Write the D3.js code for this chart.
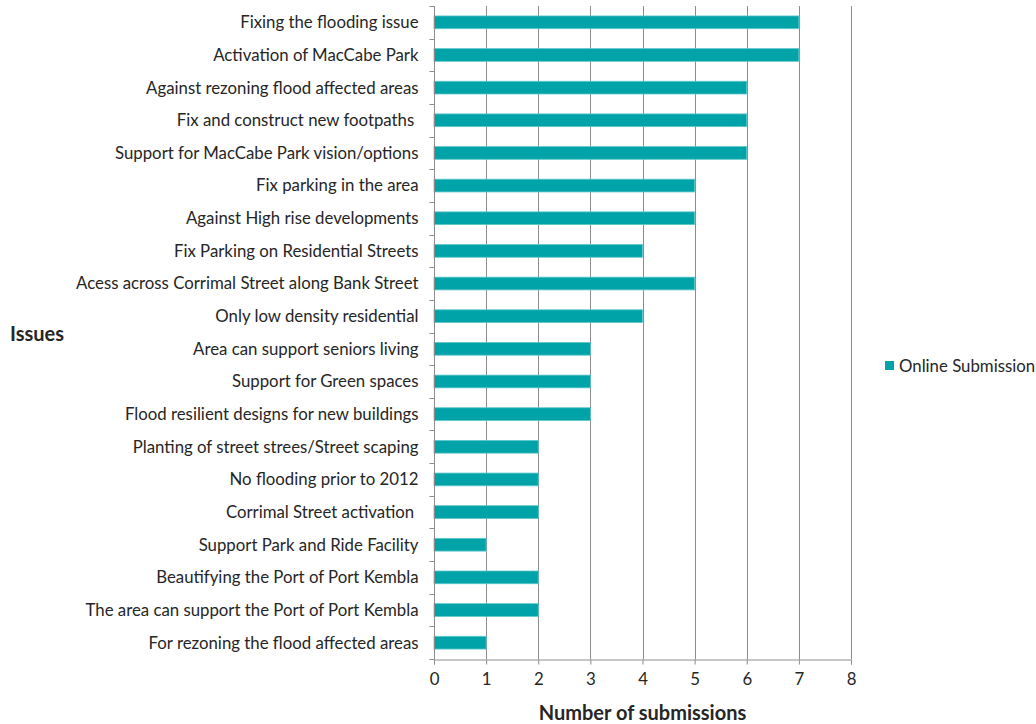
<!DOCTYPE html>
<html>
<head>
<meta charset="utf-8">
<script src="https://cdn.jsdelivr.net/npm/d3@7"></script>
<style>
  body { margin: 0; background: #fff; }
  text { font-family: Lato, "Open Sans", sans-serif; fill: #262626; }
</style>
</head>
<body>
<div id="chart-area"></div>
<script>
const issues = [
  "Fixing the flooding issue",
  "Activation of MacCabe Park",
  "Against rezoning flood affected areas",
  "Fix and construct new footpaths ",
  "Support for MacCabe Park vision/options",
  "Fix parking in the area",
  "Against High rise developments",
  "Fix Parking on Residential Streets",
  "Acess across Corrimal Street along Bank Street",
  "Only low density residential",
  "Area can support seniors living",
  "Support for Green spaces",
  "Flood resilient designs for new buildings",
  "Planting of street strees/Street scaping",
  "No flooding prior to 2012",
  "Corrimal Street activation ",
  "Support Park and Ride Facility",
  "Beautifying the Port of Port Kembla",
  "The area can support the Port of Port Kembla",
  "For rezoning the flood affected areas"
]
const submissions = [7, 7, 6, 6, 6, 5, 5, 4, 5, 4, 3, 3, 3, 2, 2, 2, 1, 2, 2, 1]
const xTicks = [0, 1, 2, 3, 4, 5, 6, 7, 8]
const seriesName = "Online Submission"

const MARGIN = { LEFT: 434, RIGHT: 185, TOP: 6, BOTTOM: 65 }
const WIDTH = 1036 - MARGIN.LEFT - MARGIN.RIGHT
const HEIGHT = 724 - MARGIN.TOP - MARGIN.BOTTOM
const BAR = "#00A3A8"
const LABEL_SIZE = "16.8px"

const svg = d3.select("#chart-area").append("svg")
  .attr("width", 1036)
  .attr("height", 724)

const g = svg.append("g")
  .attr("transform", `translate(${MARGIN.LEFT}, ${MARGIN.TOP})`)

const x = d3.scaleLinear()
  .domain([0, 8])
  .range([0, WIDTH])

const y = d3.scaleBand()
  .domain(issues)
  .range([0, HEIGHT])
  .paddingInner(0.61)
  .paddingOuter(0.305)

// gridlines
g.selectAll("line.grid")
  .data(xTicks.slice(1))
  .enter().append("line")
    .attr("class", "grid")
    .attr("x1", d => Math.round(x(d)) + 0.5)
    .attr("x2", d => Math.round(x(d)) + 0.5)
    .attr("y1", 0)
    .attr("y2", HEIGHT)
    .attr("stroke", "#8c8c8c")
    .attr("stroke-width", 1)

// bars
g.selectAll("rect.bar")
  .data(submissions)
  .enter().append("rect")
    .attr("class", "bar")
    .attr("x", x(0))
    .attr("y", (d, i) => y(issues[i]))
    .attr("width", d => x(d) - x(0))
    .attr("height", y.bandwidth())
    .attr("fill", BAR)
    .attr("stroke", "#5cc8cc")
    .attr("stroke-width", 0.8)

// x axis
const xAxisCall = d3.axisBottom(x)
  .tickValues(xTicks)
  .tickSize(5)
  .tickPadding(9)
const xAxisGroup = g.append("g")
  .attr("transform", `translate(0, ${HEIGHT + 0.5})`)
  .call(xAxisCall)
xAxisGroup.select(".domain").attr("stroke", "#8c8c8c")
xAxisGroup.selectAll(".tick line").attr("stroke", "#8c8c8c")
xAxisGroup.selectAll("text").attr("font-size", LABEL_SIZE).attr("fill", "#262626")

// y axis with ticks at category boundaries
const yAxisGroup = g.append("g").attr("transform", "translate(0.5, 0)")
yAxisGroup.append("line")
  .attr("x1", 0).attr("x2", 0)
  .attr("y1", 0).attr("y2", HEIGHT)
  .attr("stroke", "#8c8c8c")
yAxisGroup.selectAll("line.ytick")
  .data(d3.range(issues.length + 1))
  .enter().append("line")
    .attr("class", "ytick")
    .attr("x1", -5).attr("x2", 0)
    .attr("y1", i => Math.round(i * HEIGHT / issues.length) + 0.5)
    .attr("y2", i => Math.round(i * HEIGHT / issues.length) + 0.5)
    .attr("stroke", "#8c8c8c")
yAxisGroup.selectAll("text.ylabel")
  .data(issues)
  .enter().append("text")
    .attr("class", "ylabel")
    .attr("x", -16)
    .attr("y", d => y(d) + y.bandwidth() / 2)
    .attr("dy", "0.35em")
    .attr("text-anchor", "end")
    .attr("font-size", LABEL_SIZE)
    .style("white-space", "pre")
    .text(d => d)

// axis titles
svg.append("text")
  .attr("x", MARGIN.LEFT + WIDTH / 2)
  .attr("y", 720)
  .attr("text-anchor", "middle")
  .attr("font-size", "20px")
  .attr("font-weight", "bold")
  .text("Number of submissions")

svg.append("text")
  .attr("x", 10)
  .attr("y", 341)
  .attr("font-size", "20px")
  .attr("font-weight", "bold")
  .text("Issues")

// legend
const legend = svg.append("g").attr("transform", "translate(885, 361)")
legend.append("rect")
  .attr("width", 9).attr("height", 9)
  .attr("fill", BAR)
legend.append("text")
  .attr("x", 14)
  .attr("y", 5)
  .attr("dy", "0.35em")
  .attr("font-size", LABEL_SIZE)
  .text(seriesName)
</script>
</body>
</html>
